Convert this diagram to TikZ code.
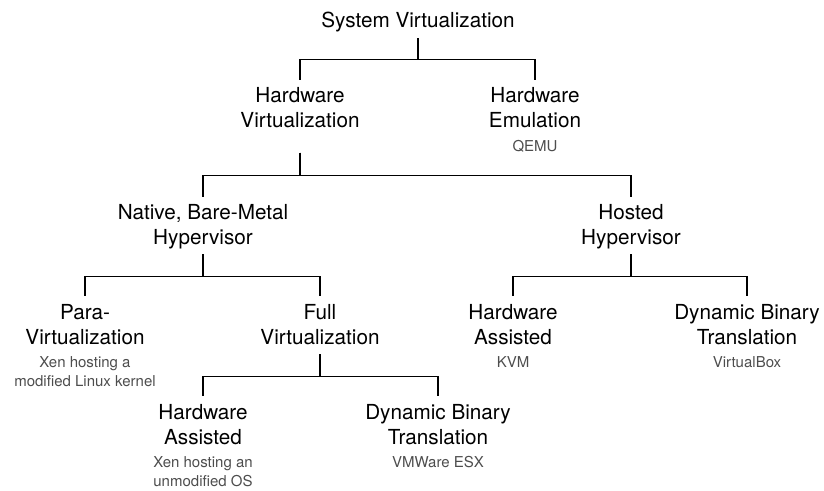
\documentclass[tikz,border=0pt]{standalone}
\usepackage{fontspec}
\setmainfont{TeX Gyre Heros}
\usetikzlibrary{positioning}

\definecolor{subgray}{HTML}{4D4D4D}

\begin{document}
\begin{tikzpicture}[x=1pt, y=1pt, node distance=11.7pt,
    topic/.style={align=center, inner sep=0pt, anchor=north, font=\fontsize{20.7}{25}\selectfont},
    example/.style={align=center, inner sep=0pt, text=subgray, font=\fontsize{15}{19}\selectfont},
    link/.style={draw, line width=1.6pt}]
  \useasboundingbox (0,0) rectangle (824,490);

  % categories
  \node[topic] (sv) at (418,478.2) {System Virtualization};
  \node[topic] (hv) at (300,402.7) {Hardware\\Virtualization};
  \node[topic] (he) at (535,402.7) {Hardware\\Emulation};
  \node[topic] (native) at (203,285.7) {Native, Bare-Metal\\Hypervisor};
  \node[topic] (hosted) at (631,285.7) {Hosted\\Hypervisor};
  \node[topic] (para) at (85,186.2) {Para-\\Virtualization};
  \node[topic] (full) at (320,186.2) {Full\\Virtualization};
  \node[topic] (hostedhw) at (513,186.2) {Hardware\\Assisted};
  \node[topic] (hosteddbt) at (747,186.2) {Dynamic Binary\\Translation};
  \node[topic] (fullhw) at (203,86.2) {Hardware\\Assisted};
  \node[topic] (fulldbt) at (438,86.2) {Dynamic Binary\\Translation};

  % products
  \node[example,below=of he] (qemu) {QEMU};
  \node[example,below=of para] (xenpara) {Xen hosting a\\modified Linux kernel};
  \node[example,below=of hostedhw] (kvm) {KVM};
  \node[example,below=of hosteddbt] (vbox) {VirtualBox};
  \node[example,below=of fullhw] (xenfull) {Xen hosting an\\unmodified OS};
  \node[example,below=of fulldbt] (esx) {VMWare ESX};

  % tree branches
  \draw[link] ([yshift=-6pt]sv.south) -- ++(0,-21.5) -| ([yshift=7.5pt]hv.north);
  \draw[link] ([yshift=-6pt]sv.south) -- ++(0,-21.5) -| ([yshift=7.5pt]he.north);
  \draw[link] ([yshift=-24.5pt]hv.south) -- ++(0,-23) -| ([yshift=7.5pt]native.north);
  \draw[link] ([yshift=-24.5pt]hv.south) -- ++(0,-23) -| ([yshift=7.5pt]hosted.north);
  \draw[link] ([yshift=-5pt]native.south) -- ++(0,-22) -| ([yshift=7.5pt]para.north);
  \draw[link] ([yshift=-5pt]native.south) -- ++(0,-22) -| ([yshift=7.5pt]full.north);
  \draw[link] ([yshift=-5pt]hosted.south) -- ++(0,-22) -| ([yshift=7.5pt]hostedhw.north);
  \draw[link] ([yshift=-5pt]hosted.south) -- ++(0,-22) -| ([yshift=7.5pt]hosteddbt.north);
  \draw[link] ([yshift=-9.5pt]full.south) -- ++(0,-22.5) -| ([yshift=7.5pt]fullhw.north);
  \draw[link] ([yshift=-9.5pt]full.south) -- ++(0,-22.5) -| ([yshift=7.5pt]fulldbt.north);
\end{tikzpicture}
\end{document}
